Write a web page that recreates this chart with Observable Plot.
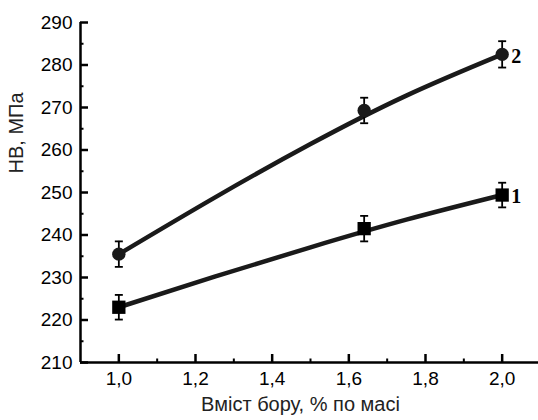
<!DOCTYPE html>
<html>
<head>
<meta charset="utf-8">
<script src="https://cdn.jsdelivr.net/npm/d3@7"></script>
<script src="https://cdn.jsdelivr.net/npm/@observablehq/plot@0.6"></script>
<style>
  html, body { margin: 0; padding: 0; background: #fff; }
</style>
</head>
<body>
<div id="chart"></div>
<script>
// Measured points
const boron = [1.0, 1.64, 2.0];
const hb1 = [223.0, 241.5, 249.4];
const hb2 = [235.5, 269.3, 282.5];
const err1 = [2.9, 3.0, 2.9];
const err2 = [3.0, 3.0, 3.1];
// Fitted curves
const fitX = [1.0, 1.25, 1.5, 1.75, 2.0];
const fit1 = [223.0, 230.2, 237.1, 243.6, 249.4];
const fit2 = [235.5, 248.8, 261.4, 272.8, 282.5];
// Ticks
const xMajor = [1.0, 1.2, 1.4, 1.6, 1.8, 2.0];
const xMinor = [1.1, 1.3, 1.5, 1.7, 1.9];
const yMajor = [210, 220, 230, 240, 250, 260, 270, 280, 290];
const yMinor = [215, 225, 235, 245, 255, 265, 275, 285];
const seriesNames = ["1", "2"];
const xTitle = "Вміст бору, % по масі";
const yTitle = "HB, МПа";

const pts1 = boron.map((x, i) => ({x, y: hb1[i], e: err1[i]}));
const pts2 = boron.map((x, i) => ({x, y: hb2[i], e: err2[i]}));
const line1 = fitX.map((x, i) => ({x, y: fit1[i]}));
const line2 = fitX.map((x, i) => ({x, y: fit2[i]}));
const allPts = pts1.concat(pts2);

const W = 538, H = 420, mL = 80, mR = -2, mT = 22, mB = 58;
const plotW = W - mL - mR, plotH = H - mT - mB;

const capSymbol = { draw(ctx) { ctx.moveTo(-4, 0); ctx.lineTo(4, 0); } };
const ink = "#1a1a1a";

const chart = Plot.plot({
  width: W, height: H,
  marginLeft: mL, marginRight: mR, marginTop: mT, marginBottom: mB,
  style: { fontFamily: "Arial, 'Liberation Sans', sans-serif", fontSize: "19px", color: "#000", background: "#fff", overflow: "visible" },
  x: { domain: [0.9, 2.1] },
  y: { domain: [210, 290] },
  marks: [
    // axes labels
    Plot.axisY({ ticks: yMajor, tickSize: 0, tickPadding: 8, tickFormat: d => String(d), label: null }),
    Plot.axisX({ ticks: xMajor, tickSize: 0, tickPadding: 9, tickFormat: d => d.toFixed(1).replace(".", ","), label: null }),
    // inward ticks
    Plot.tickY(yMajor, { y: d => d, insetRight: plotW - 8, strokeWidth: 2.5, stroke: "#000" }),
    Plot.tickY(yMinor, { y: d => d, insetRight: plotW - 3.5, strokeWidth: 2, stroke: "#000" }),
    Plot.tickX(xMajor, { x: d => d, insetTop: plotH - 8, strokeWidth: 2.5, stroke: "#000" }),
    Plot.tickX(xMinor, { x: d => d, insetTop: plotH - 3.5, strokeWidth: 2, stroke: "#000" }),
    // axis lines
    Plot.ruleX([0.9], { strokeWidth: 2.5, stroke: "#000" }),
    Plot.ruleY([210], { strokeWidth: 2.5, stroke: "#000" }),
    // fitted lines
    Plot.line(line1, { x: "x", y: "y", curve: "natural", stroke: ink, strokeWidth: 4.5 }),
    Plot.line(line2, { x: "x", y: "y", curve: "natural", stroke: ink, strokeWidth: 4.5 }),
    // error bars
    Plot.ruleX(allPts, { x: "x", y1: d => d.y - d.e, y2: d => d.y + d.e, stroke: "#000", strokeWidth: 1.8 }),
    Plot.dot(allPts, { x: "x", y: d => d.y - d.e, symbol: capSymbol, r: 4, stroke: "#000", strokeWidth: 1.8, fill: "none" }),
    Plot.dot(allPts, { x: "x", y: d => d.y + d.e, symbol: capSymbol, r: 4, stroke: "#000", strokeWidth: 1.8, fill: "none" }),
    // markers
    Plot.dot(pts1, { x: "x", y: "y", symbol: "square", r: 7.5, fill: "#000", stroke: "none" }),
    Plot.dot(pts2, { x: "x", y: "y", symbol: "circle", r: 6.7, fill: ink, stroke: "none" }),
    // series labels
    Plot.text([{x: boron[2], y: hb1[2], t: seriesNames[0]}, {x: boron[2], y: hb2[2], t: seriesNames[1]}], {
      x: "x", y: "y", text: "t", textAnchor: "start", dx: 9, dy: 2,
      fontFamily: "'Liberation Serif', 'Times New Roman', serif", fontWeight: "bold", fontSize: 20, fill: "#000"
    }),
    // axis titles
    Plot.text([xTitle], { frameAnchor: "bottom", dx: -10, dy: 48, fontSize: 20, fill: "#222" }),
    Plot.text([yTitle], { frameAnchor: "left", rotate: -90, dx: -64, dy: -19, fontSize: 20, fill: "#222" })
  ]
});
document.getElementById("chart").appendChild(chart);
</script>
</body>
</html>
